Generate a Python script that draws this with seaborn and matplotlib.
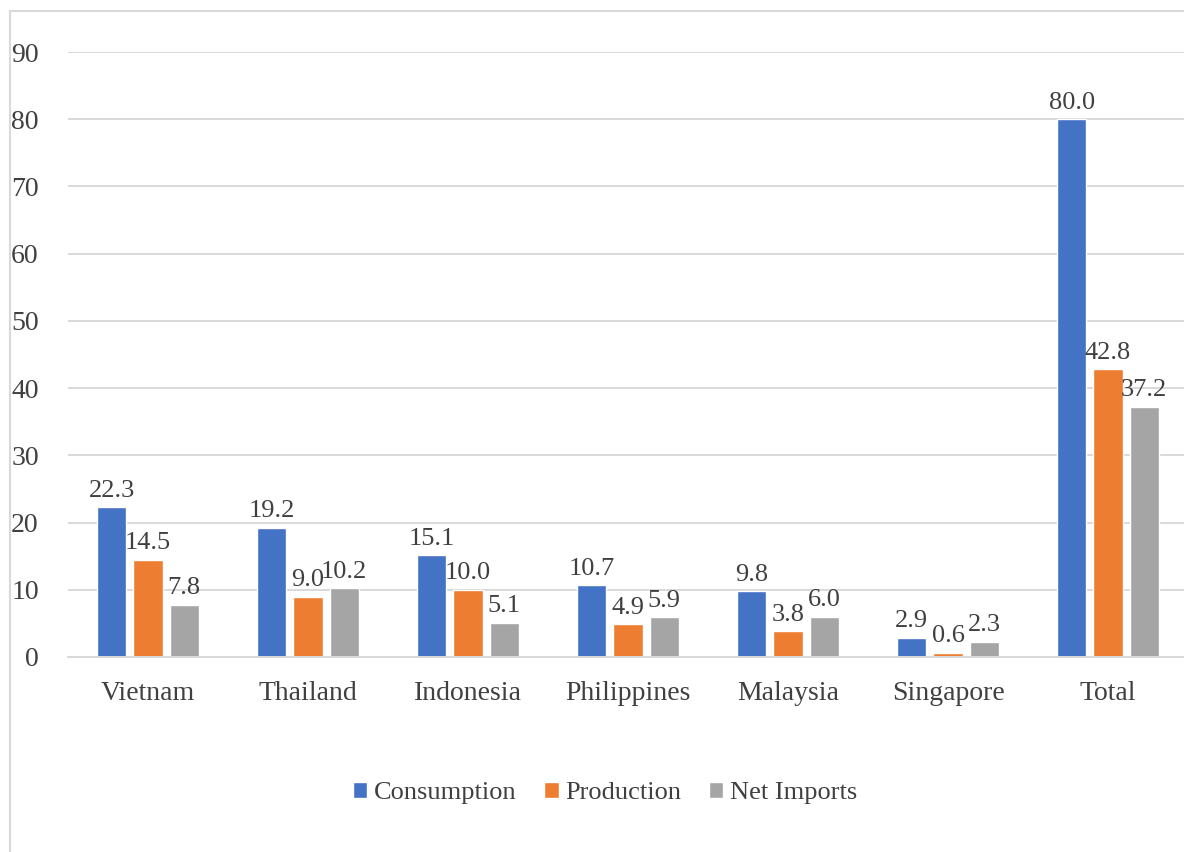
import matplotlib
matplotlib.use("Agg")
import matplotlib.pyplot as plt
from matplotlib.patches import Rectangle
import seaborn as sns
import pandas as pd

countries = ["Vietnam", "Thailand", "Indonesia", "Philippines", "Malaysia", "Singapore", "Total"]
series_names = ["Consumption", "Production", "Net Imports"]
consumption = [22.3, 19.2, 15.1, 10.7, 9.8, 2.9, 80.0]
production = [14.5, 9.0, 10.0, 4.9, 3.8, 0.6, 42.8]
net_imports = [7.8, 10.2, 5.1, 5.9, 6.0, 2.3, 37.2]
y_ticks = [0, 10, 20, 30, 40, 50, 60, 70, 80, 90]

colors = ["#4472C4", "#ED7D31", "#A5A5A5"]
text_color = "#404040"
grid_color = "#D9D9D9"

rows = []
for name, vals in zip(series_names, [consumption, production, net_imports]):
    for c, v in zip(countries, vals):
        rows.append({"Country": c, "Series": name, "Value": v})
df = pd.DataFrame(rows)

sns.set_style("white")
plt.rcParams["font.family"] = ["Liberation Serif", "DejaVu Serif"]

W, H = 1184, 852
fig = plt.figure(figsize=(W / 100, H / 100), dpi=100)
ax = fig.add_axes([68 / W, (H - 657) / H, 1120 / W, 605 / H])

sns.barplot(data=df, x="Country", y="Value", hue="Series", order=countries,
            hue_order=series_names, palette=colors, width=0.68, gap=0.2,
            saturation=1, ax=ax, legend=True)

ax.set_xlim(-0.5, 6.5)
ax.set_ylim(0, 90)
ax.set_yticks(y_ticks)
ax.set_yticklabels([str(t) for t in y_ticks])
ax.set_xlabel("")
ax.set_ylabel("")
ax.grid(axis="y", color=grid_color, linewidth=1.4)
ax.set_axisbelow(True)
for s in ["left", "right", "top"]:
    ax.spines[s].set_visible(False)
ax.spines["bottom"].set_color(grid_color)
ax.spines["bottom"].set_linewidth(1.4)
ax.tick_params(axis="y", length=0, pad=21, labelsize=20, labelcolor=text_color)
ax.tick_params(axis="x", length=0, pad=17, labelsize=20, labelcolor=text_color)

for cont in ax.containers:
    ax.bar_label(cont, fmt="%.1f", padding=4, fontsize=19, color=text_color)

handles, labels = ax.get_legend_handles_labels()
ax.get_legend().remove()
fig.legend(handles, labels, loc="center", bbox_to_anchor=(605 / W, 1 - 793 / H),
           ncol=3, frameon=False, fontsize=19, labelcolor=text_color,
           handlelength=0.55, handleheight=0.6, handletextpad=0.25,
           columnspacing=1.05)

fig.add_artist(Rectangle((10 / W, -0.1), 1.2, (H - 11) / H + 0.1,
                         transform=fig.transFigure, fill=False,
                         edgecolor=grid_color, linewidth=1.5))

fig.savefig("out.png", dpi=100)
